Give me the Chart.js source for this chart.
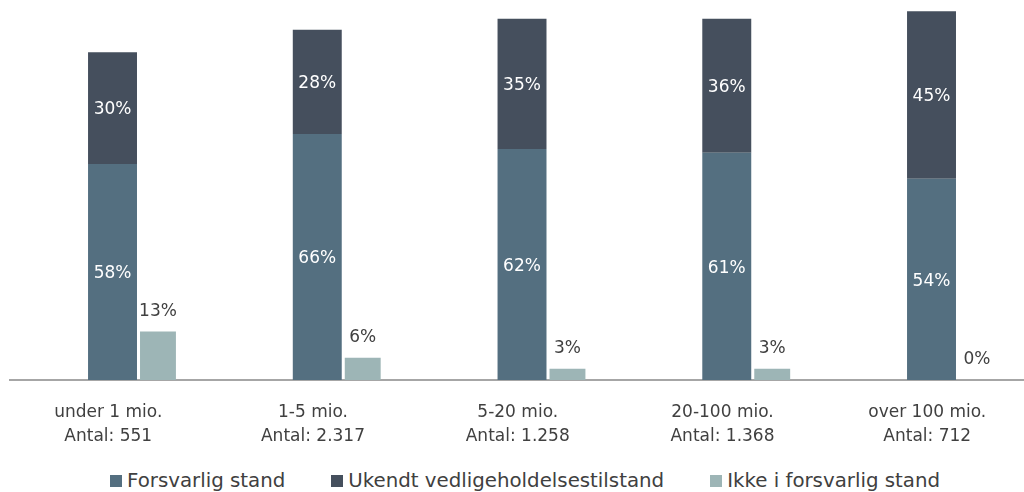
<!DOCTYPE html>
<html>
<head>
<meta charset="utf-8">
<script src="https://cdn.jsdelivr.net/npm/chart.js@4.4.0/dist/chart.umd.min.js"></script>
<style>
  html, body { margin: 0; padding: 0; background: #fff; }
  #wrap { width: 1024px; height: 446px; position: relative; }
  #legend {
    width: 1024px; height: 46px; box-sizing: border-box;
    padding: 24px 0 0 26px;
    display: flex; justify-content: center; align-items: center;
    font-family: 'DejaVu Sans', Verdana, sans-serif; font-size: 19.8px;
    color: #404040; line-height: 22px;
  }
  #legend .item { display: flex; align-items: center; margin-right: 46px; white-space: nowrap; }
  #legend .item:last-child { margin-right: 0; }
  #legend .box { width: 12px; height: 12px; margin-right: 5px; display: inline-block; }
</style>
</head>
<body>
<div id="wrap"><canvas id="chart"></canvas></div>
<div id="legend"></div>
<script>
var categories = [
  ['under 1 mio.', 'Antal: 551'],
  ['1-5 mio.', 'Antal: 2.317'],
  ['5-20 mio.', 'Antal: 1.258'],
  ['20-100 mio.', 'Antal: 1.368'],
  ['over 100 mio.', 'Antal: 712']
];
var forsvarlig = [58, 66, 62, 61, 54];
var ukendt = [30, 28, 35, 36, 45];
var ikke = [13, 6, 3, 3, 0];

var fontFamily = "'DejaVu Sans', Verdana, sans-serif";
var textColor = '#404040';

function points(values) {
  return values.map(function (v, i) { return { x: i, y: v }; });
}

// draws the % labels: inside the stacked bars, above the light bars
var valueLabels = {
  id: 'valueLabels',
  afterDatasetsDraw: function (chart) {
    var ctx = chart.ctx;
    ctx.save();
    ctx.font = '17px ' + fontFamily;
    ctx.textAlign = 'center';
    ctx.textBaseline = 'middle';
    chart.data.datasets.forEach(function (ds, di) {
      var meta = chart.getDatasetMeta(di);
      meta.data.forEach(function (bar, i) {
        var txt = Math.round(ds.data[i].y) + '%';
        if (ds.labelOutside) {
          ctx.fillStyle = textColor;
          ctx.fillText(txt, bar.x, bar.y - 20);
        } else {
          ctx.fillStyle = '#ffffff';
          ctx.fillText(txt, bar.x, (bar.y + bar.base) / 2 + 2);
        }
      });
    });
    ctx.restore();
  }
};

var chart = new Chart(document.getElementById('chart'), {
  type: 'bar',
  data: {
    datasets: [
      {
        label: 'Forsvarlig stand',
        data: points(forsvarlig),
        stack: 'a',
        backgroundColor: '#546F80',
        barPercentage: 1.077
      },
      {
        label: 'Ukendt vedligeholdelsestilstand',
        data: points(ukendt),
        stack: 'a',
        backgroundColor: '#454F5D',
        barPercentage: 1.077
      },
      {
        label: 'Ikke i forsvarlig stand',
        data: points(ikke),
        stack: 'b',
        backgroundColor: '#9DB5B6',
        barPercentage: 0.79,
        labelOutside: true
      }
    ]
  },
  options: {
    responsive: true,
    maintainAspectRatio: false,
    animation: false,
    categoryPercentage: 0.444,
    layout: { padding: { left: 10, right: 0, top: 0, bottom: 0 } },
    scales: {
      x: {
        type: 'linear',
        bounds: 'data',
        offset: false,
        min: -0.6117,
        max: 4.3407,
        grid: { display: false, drawTicks: false, offset: false },
        border: { display: true, color: '#A6A6A6', width: 2 },
        afterBuildTicks: function (scale) {
          scale.ticks = categories.map(function (c, i) { return { value: i }; });
        },
        afterFit: function (scale) {
          scale.height = 66;
          scale.paddingLeft = 0;
          scale.paddingRight = 0;
        },
        ticks: {
          autoSkip: false,
          maxRotation: 0,
          padding: 21,
          labelOffset: -27,
          color: textColor,
          font: { size: 17, family: fontFamily, lineHeight: 1.4 },
          callback: function (v) {
            return categories[v] || '';
          }
        }
      },
      y: {
        display: false,
        stacked: true,
        min: 0,
        max: 102
      }
    },
    plugins: {
      legend: { display: false },
      tooltip: { enabled: false }
    }
  },
  plugins: [valueLabels]
});

// legend built from the chart's own datasets
var legendEl = document.getElementById('legend');
chart.data.datasets.forEach(function (ds) {
  var item = document.createElement('span');
  item.className = 'item';
  var box = document.createElement('span');
  box.className = 'box';
  box.style.background = ds.backgroundColor;
  item.appendChild(box);
  item.appendChild(document.createTextNode(ds.label));
  legendEl.appendChild(item);
});
</script>
</body>
</html>
